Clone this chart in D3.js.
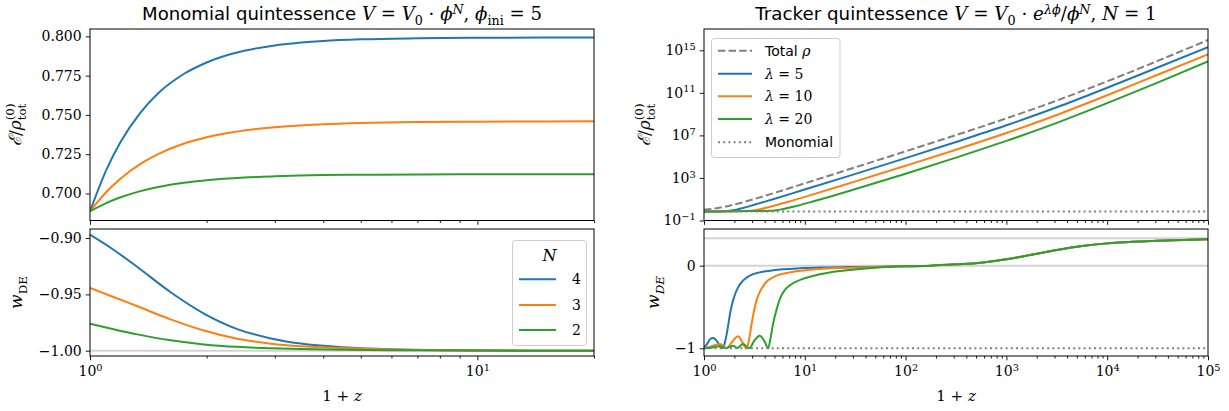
<!DOCTYPE html>
<html>
<head>
<meta charset="utf-8">
<script src="https://cdn.jsdelivr.net/npm/d3@7"></script>
<style>
  body { margin: 0; background: #fff; }
  text { font-family: "DejaVu Serif", serif; white-space: pre; }
</style>
</head>
<body>
<svg width="1229" height="411"></svg>
<script>
// ---------- data ----------
const seriesColors = ["#1f77b4", "#ff7f0e", "#2ca02c"];
const monoLabels = ["4", "3", "2"];

// left top: energy density vs 1+z, for N = 4, 3, 2
const monoZ = [1, 1.1, 1.2, 1.35, 1.5, 1.75, 2, 2.5, 3, 4, 5, 7, 10, 20];
const monoE4 = [0.6887, 0.7146, 0.7329, 0.7515, 0.7638, 0.7762, 0.7834, 0.7908, 0.7942, 0.7970, 0.7981, 0.7988, 0.7991, 0.7993];
const monoE3 = [0.6887, 0.7008, 0.7096, 0.7189, 0.7251, 0.7318, 0.7358, 0.7401, 0.7422, 0.7441, 0.7449, 0.7455, 0.7457, 0.7459];
const monoE2 = [0.6887, 0.6939, 0.6976, 0.7015, 0.7041, 0.7068, 0.7084, 0.7101, 0.7109, 0.7117, 0.7119, 0.7121, 0.7122, 0.7123];

// left bottom: w_DE vs 1+z
const monoWZ = [1, 1.15, 1.325, 1.615, 1.968, 2.4, 2.93, 3.5, 4.5, 6, 10, 20];
const monoW4 = [-0.897, -0.9104, -0.9257, -0.9481, -0.967, -0.9808, -0.9891, -0.9937, -0.997, -0.9988, -0.9998, -1.0];
const monoW3 = [-0.9444, -0.9523, -0.9606, -0.9722, -0.9821, -0.9894, -0.9938, -0.9961, -0.9977, -0.999, -0.9998, -1.0];
const monoW2 = [-0.976, -0.9809, -0.9855, -0.9908, -0.9944, -0.9966, -0.9978, -0.9984, -0.9991, -0.9996, -0.9999, -1.0];

// right top: log10 of rho vs log10(1+z)
const totalZ = [0, 0.1, 0.2, 0.3, 0.4, 0.5, 0.6, 0.7, 0.8, 1.0, 1.2, 1.5, 2, 2.5, 3, 3.5, 4, 4.5, 5];
const totalRho = [0.0, 0.117, 0.284, 0.499, 0.748, 1.021, 1.306, 1.599, 1.895, 2.494, 3.093, 3.995, 5.504, 7.029, 8.602, 10.274, 12.083, 13.999, 15.969];
const lam5Z = [0, 0.1, 0.182, 0.222, 0.255, 0.288, 0.338, 0.387, 0.454, 0.553, 0.685, 0.95, 1.447, 2, 2.5, 3, 3.5, 4, 4.5, 5];
const lam5Rho = [-0.16, -0.15, -0.125, -0.115, -0.088, -0.04, 0.06, 0.17, 0.35, 0.63, 1.0, 1.77, 3.22, 4.86, 6.38, 7.95, 9.64, 11.48, 13.38, 15.30];
const lam10Z = [0, 0.2, 0.42, 0.454, 0.487, 0.52, 0.57, 0.62, 0.72, 0.85, 1.05, 1.447, 2, 2.5, 3, 3.5, 4, 4.5, 5];
const lam10Rho = [-0.16, -0.13, -0.097, -0.089, -0.062, -0.014, 0.083, 0.197, 0.45, 0.80, 1.36, 2.51, 4.145, 5.65, 7.22, 8.92, 10.77, 12.70, 14.62];
const lam20Z = [0, 0.3, 0.636, 0.659, 0.685, 0.72, 0.768, 0.818, 0.917, 1.05, 1.248, 1.447, 2, 2.5, 3, 3.5, 4, 4.5, 5];
const lam20Rho = [-0.16, -0.13, -0.096, -0.092, -0.076, -0.036, 0.044, 0.146, 0.371, 0.704, 1.235, 1.79, 3.40, 4.91, 6.48, 8.18, 10.03, 11.96, 13.95];
const monoRefZ = [0, 5];
const monoRefRho = [-0.161, -0.161];

// right bottom: w_DE vs log10(1+z)
const lam5WZ = [0, 0.03, 0.06, 0.09, 0.12, 0.15, 0.182, 0.2, 0.222, 0.24, 0.255, 0.27, 0.288, 0.31, 0.338, 0.387, 0.454, 0.553, 0.685, 0.95, 1.2, 1.447, 1.75];
const lam5W = [-0.99, -0.95, -0.89, -0.875, -0.9, -0.955, -1.0, -0.96, -0.847, -0.72, -0.605, -0.51, -0.423, -0.34, -0.262, -0.181, -0.121, -0.081, -0.056, -0.032, -0.022, -0.016, -0.012];
const lam10WZ = [0, 0.05, 0.1, 0.156, 0.19, 0.222, 0.28, 0.338, 0.38, 0.42, 0.437, 0.454, 0.47, 0.487, 0.52, 0.545, 0.57, 0.62, 0.67, 0.72, 0.85, 1.05, 1.447, 1.75];
const lam10W = [-0.995, -0.985, -0.965, -0.948, -0.97, -1.0, -0.92, -0.855, -0.925, -1.0, -0.95, -0.847, -0.72, -0.605, -0.423, -0.34, -0.282, -0.194, -0.152, -0.121, -0.081, -0.048, -0.024, -0.014];
const lam20WZ = [0, 0.08, 0.156, 0.22, 0.288, 0.33, 0.387, 0.45, 0.5, 0.553, 0.6, 0.636, 0.659, 0.685, 0.72, 0.745, 0.768, 0.793, 0.818, 0.867, 0.917, 0.98, 1.05, 1.15, 1.248, 1.447, 1.7];
const lam20W = [-1.0, -0.99, -0.975, -0.995, -0.968, -0.995, -0.948, -1.0, -0.905, -0.847, -0.915, -1.0, -0.887, -0.706, -0.53, -0.43, -0.36, -0.31, -0.272, -0.225, -0.192, -0.16, -0.133, -0.103, -0.082, -0.052, -0.025];
const commonWZ = [2, 2.25, 2.5, 2.75, 3, 3.25, 3.5, 3.75, 4, 4.25, 4.5, 4.75, 5];
const commonW = [-0.008, 0.0, 0.016, 0.036, 0.077, 0.133, 0.19, 0.238, 0.27, 0.29, 0.302, 0.312, 0.319];
const monoRefW = [-1, -1];

// tick values
const leftTopTicks = [0.700, 0.725, 0.750, 0.775, 0.800];
const leftBotTicks = [-1.00, -0.95, -0.90];
const rightTopTicks = [1e-1, 1e3, 1e7, 1e11, 1e15];
const rightBotTicks = [-1, 0];
const leftXMajor = [1, 10];
const leftXMinor = [2, 3, 4, 5, 6, 7, 8, 9, 20];
const rightXMajor = [1, 10, 100, 1000, 10000, 100000];
const rightXMinor = d3.range(0, 5).flatMap(k => d3.range(2, 10).map(m => m * 10 ** k));

// ---------- layout ----------
const svg = d3.select("svg");
const L = [90, 594], R = [704, 1208];
const TOP = [29, 220.5], BOT = [229, 356];

const xL = d3.scaleLog().domain([1, 20]).range(L);
const xR = d3.scaleLog().domain([1, 1e5]).range(R);
const yLT = d3.scaleLinear().domain([0.6828, 0.8047]).range([TOP[1], TOP[0]]);
const yLB = d3.scaleLinear().domain([-1.0047, -0.892]).range([BOT[1], BOT[0]]);
const yRT = d3.scaleLog().domain([1e-1, 1e17]).range([TOP[1], TOP[0]]);
const yRB = d3.scaleLinear().domain([-1.093, 0.444]).range([BOT[1], BOT[0]]);

const pow10 = v => Math.pow(10, v);

let clipN = 0;
function panel(xr, yr) {
  const id = "clip" + (clipN++);
  svg.append("clipPath").attr("id", id).append("rect")
    .attr("x", xr[0]).attr("y", yr[0]).attr("width", xr[1] - xr[0]).attr("height", yr[1] - yr[0]);
  return svg.append("g").attr("clip-path", `url(#${id})`);
}

function drawLine(g, xs, ys, sx, sy, color, opts = {}) {
  const pts = xs.map((x, i) => [sx(x), sy(ys[i])]);
  g.append("path")
    .attr("d", d3.line().curve(d3.curveMonotoneX)(pts))
    .attr("fill", "none")
    .attr("stroke", color)
    .attr("stroke-width", opts.width || 2)
    .attr("stroke-dasharray", opts.dash || null);
}

function frame(xr, yr) {
  svg.append("rect")
    .attr("x", xr[0]).attr("y", yr[0]).attr("width", xr[1] - xr[0]).attr("height", yr[1] - yr[0])
    .attr("fill", "none").attr("stroke", "#000").attr("stroke-width", 1);
}

function tidy(g) {
  g.select(".domain").remove();
  g.selectAll("line").attr("stroke", "#000").attr("stroke-width", 0.9);
  g.selectAll("text").attr("font-size", 14).attr("font-family", "DejaVu Serif").attr("fill", "#000");
}

function addPow(g) {
  g.selectAll(".tick text").each(function (d) {
    const e = Math.round(Math.log10(d));
    const t = d3.select(this);
    t.text(null);
    t.append("tspan").text("10");
    t.append("tspan").attr("font-size", "0.7em").attr("dy", "-0.55em").text(e < 0 ? "\u2212" + (-e) : e);
  });
}

function xAxis(scale, y, majors, minors, labels) {
  const g = svg.append("g").attr("transform", `translate(0,${y})`);
  g.call(d3.axisBottom(scale).tickValues(majors).tickSize(4.3).tickPadding(6).tickSizeOuter(0).tickFormat(() => ""));
  if (labels) addPow(g);
  tidy(g);
  const gm = svg.append("g").attr("transform", `translate(0,${y})`);
  gm.call(d3.axisBottom(scale).tickValues(minors).tickSize(2.5).tickSizeOuter(0).tickFormat(() => ""));
  tidy(gm);
}

function yAxis(scale, x, ticks, fmt) {
  const g = svg.append("g").attr("transform", `translate(${x},0)`);
  const ax = d3.axisLeft(scale).tickValues(ticks).tickSize(4.3).tickPadding(4).tickSizeOuter(0);
  if (fmt) ax.tickFormat(fmt); else ax.tickFormat(() => "");
  g.call(ax);
  if (!fmt) addPow(g);
  tidy(g);
}

// rich text with simple math pieces
function rich(text, parts, fs, supRise = 0.42) {
  let cur = 0, prev = null;
  parts.forEach(([str, st, stackOnPrev]) => {
    let off = 0, size = fs, fam = "DejaVu Serif", it = false;
    if (st === "sans") fam = "DejaVu Sans";
    if (st === "it") it = true;
    if (st.startsWith("sub")) { off = 0.28 * fs; size = 0.7 * fs; it = st === "subit"; }
    if (st.startsWith("sup")) { off = -supRise * fs; size = 0.7 * fs; it = st === "supit"; }
    const ts = text.append("tspan")
      .attr("font-family", fam)
      .attr("font-style", it ? "italic" : "normal")
      .attr("font-size", size)
      .attr("dy", off - cur)
      .text(str);
    if (stackOnPrev && prev) ts.attr("dx", -prev.node().getComputedTextLength());
    cur = off;
    prev = ts;
  });
  return text;
}

function fitWidth(text, target) {
  const w = text.node().getBBox().width;
  const k = target / w;
  text.selectAll("tspan").each(function () {
    const t = d3.select(this);
    t.attr("font-size", +t.attr("font-size") * k);
    t.attr("dy", +t.attr("dy") * k);
  });
}

// ---------- left top ----------
{
  const g = panel(L, TOP);
  [monoE4, monoE3, monoE2].forEach((ys, i) => drawLine(g, monoZ, ys, xL, yLT, seriesColors[i]));
  frame(L, TOP);
  yAxis(yLT, L[0], leftTopTicks, d3.format(".3f"));
  xAxis(xL, TOP[1], leftXMajor, leftXMinor, false);
}

// ---------- left bottom ----------
{
  const g = panel(L, BOT);
  drawLine(g, [1, 20], [-1, -1], xL, yLB, "#d3d3d3", { width: 2 });
  [monoW4, monoW3, monoW2].forEach((ys, i) => drawLine(g, monoWZ, ys, xL, yLB, seriesColors[i]));
  frame(L, BOT);
  yAxis(yLB, L[0], leftBotTicks, d3.format(".2f"));
  xAxis(xL, BOT[1], leftXMajor, leftXMinor, true);

  // legend
  const lg = svg.append("g");
  lg.append("rect").attr("x", 512.5).attr("y", 240.5).attr("width", 74).attr("height", 105)
    .attr("rx", 3).attr("fill", "#fff").attr("fill-opacity", 0.8).attr("stroke", "#ccc");
  lg.append("text").attr("x", 549.5).attr("y", 261).attr("text-anchor", "middle")
    .attr("font-size", 16).attr("font-style", "italic").text("N");
  [279.3, 305, 330].forEach((y, i) => {
    lg.append("line").attr("x1", 519).attr("x2", 556).attr("y1", y).attr("y2", y)
      .attr("stroke", seriesColors[i]).attr("stroke-width", 2);
    lg.append("text").attr("x", 572).attr("y", y + 5).attr("font-size", 14).text(monoLabels[i]);
  });
}

// ---------- right top ----------
{
  const g = panel(R, TOP);
  drawLine(g, totalZ.map(pow10), totalRho.map(pow10), xR, yRT, "#808080", { dash: "7.4,3.2" });
  drawLine(g, lam5Z.map(pow10), lam5Rho.map(pow10), xR, yRT, seriesColors[0]);
  drawLine(g, lam10Z.map(pow10), lam10Rho.map(pow10), xR, yRT, seriesColors[1]);
  drawLine(g, lam20Z.map(pow10), lam20Rho.map(pow10), xR, yRT, seriesColors[2]);
  drawLine(g, monoRefZ.map(pow10), monoRefRho.map(pow10), xR, yRT, "#808080", { dash: "2,3.2" });
  frame(R, TOP);
  yAxis(yRT, R[0], rightTopTicks, null);
  xAxis(xR, TOP[1], rightXMajor, rightXMinor, false);

  // legend
  const lg = svg.append("g");
  lg.append("rect").attr("x", 711.5).attr("y", 38.5).attr("width", 128.5).attr("height", 119)
    .attr("rx", 3).attr("fill", "#fff").attr("fill-opacity", 0.8).attr("stroke", "#ccc");
  const rows = [50.7, 73.7, 96.3, 119, 142.3];
  const styles = [
    { c: "#808080", dash: "7.4,3.2" },
    { c: seriesColors[0] }, { c: seriesColors[1] }, { c: seriesColors[2] },
    { c: "#808080", dash: "2,3.2" }
  ];
  const labels = [
    [["Total ", "sans"], ["ρ", "it"]],
    [["λ", "it"], [" = 5", "rm"]],
    [["λ", "it"], [" = 10", "rm"]],
    [["λ", "it"], [" = 20", "rm"]],
    [["Monomial", "sans"]]
  ];
  rows.forEach((y, i) => {
    lg.append("line").attr("x1", 718).attr("x2", 752).attr("y1", y).attr("y2", y)
      .attr("stroke", styles[i].c).attr("stroke-width", 2).attr("stroke-dasharray", styles[i].dash || null);
    rich(lg.append("text").attr("x", 765).attr("y", y + 5), labels[i], 14);
  });
}

// ---------- right bottom ----------
{
  const g = panel(R, BOT);
  drawLine(g, [1, 1e5], [0, 0], xR, yRB, "#d3d3d3", { width: 2 });
  drawLine(g, [1, 1e5], [1 / 3, 1 / 3], xR, yRB, "#d3d3d3", { width: 2 });
  [[lam5WZ, lam5W], [lam10WZ, lam10W], [lam20WZ, lam20W]].forEach(([zs, ws], i) => {
    drawLine(g, zs.concat(commonWZ).map(pow10), ws.concat(commonW), xR, yRB, seriesColors[i]);
  });
  drawLine(g, monoRefZ.map(pow10), monoRefW, xR, yRB, "#808080", { dash: "2,3.2" });
  frame(R, BOT);
  yAxis(yRB, R[0], rightBotTicks, d3.format("d"));
  xAxis(xR, BOT[1], rightXMajor, rightXMinor, true);
}

// ---------- titles and axis labels ----------
const t1 = rich(svg.append("text").attr("x", (L[0] + L[1]) / 2).attr("y", 20).attr("text-anchor", "middle"), [
  ["Monomial quintessence ", "sans"], ["V", "it"], [" = ", "rm"], ["V", "it"], ["0", "sub"], [" · ", "rm"],
  ["ϕ", "it"], ["N", "supit"], [", ", "rm"], ["ϕ", "it"], ["ini", "sub"], [" = 5", "rm"]
], 16.5, 0.34);
fitWidth(t1, 400);
const t2 = rich(svg.append("text").attr("x", (R[0] + R[1]) / 2).attr("y", 20).attr("text-anchor", "middle"), [
  ["Tracker quintessence ", "sans"], ["V", "it"], [" = ", "rm"], ["V", "it"], ["0", "sub"], [" · ", "rm"],
  ["e", "it"], ["λϕ", "supit"], ["/", "rm"], ["ϕ", "it"], ["N", "supit"], [", ", "rm"], ["N", "it"], [" = 1", "rm"]
], 16.5, 0.34);
fitWidth(t2, 403);

function yLabel(x, y, parts) {
  rich(svg.append("text").attr("text-anchor", "middle")
    .attr("transform", `translate(${x},${y}) rotate(-90)`), parts, 17);
}
const eParts = [["ℰ", "it"], ["/", "rm"], ["ρ", "it"], ["tot", "sub"], ["(0)", "sup", true]];
yLabel(21, (TOP[0] + TOP[1]) / 2, eParts);
yLabel(650, (TOP[0] + TOP[1]) / 2, eParts);
yLabel(22, (BOT[0] + BOT[1]) / 2, [["w", "it"], ["DE", "sub"]]);
yLabel(659, (BOT[0] + BOT[1]) / 2, [["w", "it"], ["DE", "subit"]]);

[L, R].forEach(r => {
  rich(svg.append("text").attr("x", (r[0] + r[1]) / 2).attr("y", 401).attr("text-anchor", "middle"),
    [["1 + ", "rm"], ["z", "it"]], 15);
});
</script>
</body>
</html>
